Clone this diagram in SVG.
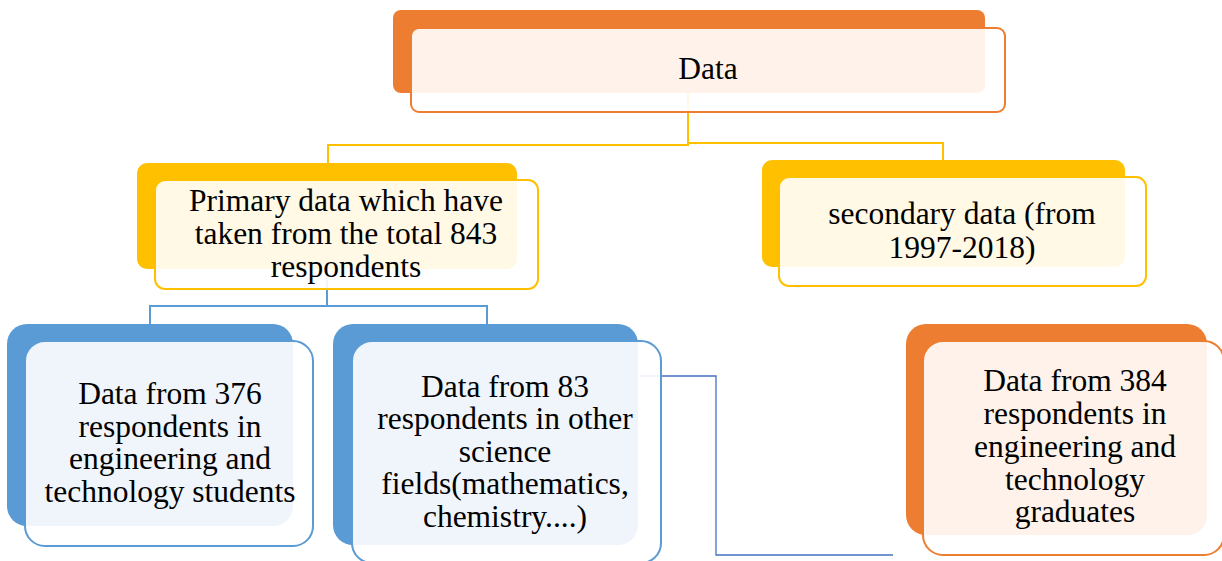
<svg xmlns="http://www.w3.org/2000/svg" width="1222" height="561" viewBox="0 0 1222 561">
  <style>
    .lbl { font-family: 'Liberation Serif', 'Times New Roman', Times, serif; font-size: 31.5px; fill: #000; text-anchor: middle; }
    .front { fill: #ffffff; fill-opacity: 0.9; stroke-width: 2; }
    .wire { fill: none; stroke-width: 2; }
    .orange-back { fill: #ED7D31; }
    .orange-front { stroke: #ED7D31; }
    .yellow-back { fill: #FFC000; }
    .yellow-front { stroke: #FFC000; }
    .blue-back { fill: #5B9BD5; }
    .blue-front { stroke: #5B9BD5; }
  </style>

  <g id="connectors">
    <!-- root to the two data kinds -->
    <polyline class="wire" stroke="#FFC000" points="688,93 688,145 328,145 328,163"/>
    <polyline class="wire" stroke="#FFC000" points="688,143 943,143 943,160"/>
    <!-- primary data to the two respondent groups -->
    <polyline class="wire" stroke="#5B9BD5" points="327,269 327,306 150,306 150,324"/>
    <polyline class="wire" stroke="#5B9BD5" points="327,306 487,306 487,324"/>
    <!-- elbow link toward the graduates box -->
    <polyline fill="none" stroke="#4472C4" stroke-width="1.3" points="640,376 716,376 716,555 893,555"/>
  </g>

  <g id="node-data">
    <rect class="orange-back" x="393" y="10" width="592" height="83" rx="8"/>
    <rect class="front orange-front" x="411" y="28" width="594" height="84" rx="8"/>
    <text class="lbl" x="708" y="79">Data</text>
  </g>

  <g id="node-primary">
    <rect class="yellow-back" x="137" y="163" width="380" height="106" rx="10"/>
    <rect class="front yellow-front" x="155" y="180" width="383" height="109" rx="10"/>
    <text class="lbl" x="346" y="211">Primary data which have</text>
    <text class="lbl" x="346" y="244">taken from the total 843</text>
    <text class="lbl" x="346" y="277">respondents</text>
  </g>

  <g id="node-secondary">
    <rect class="yellow-back" x="762" y="160" width="363" height="107" rx="10"/>
    <rect class="front yellow-front" x="779" y="177" width="367" height="109" rx="10"/>
    <text class="lbl" x="962" y="224">secondary data (from</text>
    <text class="lbl" x="962" y="258">1997-2018)</text>
  </g>

  <g id="node-students">
    <rect class="blue-back" x="7" y="324" width="286" height="202" rx="20"/>
    <rect class="front blue-front" x="25" y="341" width="288" height="205" rx="20"/>
    <text class="lbl" x="170" y="404">Data from 376</text>
    <text class="lbl" x="170" y="437">respondents in</text>
    <text class="lbl" x="170" y="469">engineering and</text>
    <text class="lbl" x="170" y="502">technology students</text>
  </g>

  <g id="node-other-science">
    <rect class="blue-back" x="333" y="324" width="305" height="221" rx="20"/>
    <rect class="front blue-front" x="352" y="341" width="309" height="222" rx="20"/>
    <text class="lbl" x="505" y="397">Data from 83</text>
    <text class="lbl" x="505" y="429">respondents in other</text>
    <text class="lbl" x="505" y="462">science</text>
    <text class="lbl" x="505" y="494">fields(mathematics,</text>
    <text class="lbl" x="505" y="527">chemistry....)</text>
  </g>

  <g id="node-graduates">
    <rect class="orange-back" x="906" y="324" width="301" height="211" rx="20"/>
    <rect class="front orange-front" x="923" y="341" width="301" height="214" rx="20"/>
    <text class="lbl" x="1075" y="391">Data from 384</text>
    <text class="lbl" x="1075" y="424">respondents in</text>
    <text class="lbl" x="1075" y="457">engineering and</text>
    <text class="lbl" x="1075" y="490">technology</text>
    <text class="lbl" x="1075" y="522">graduates</text>
  </g>
</svg>
